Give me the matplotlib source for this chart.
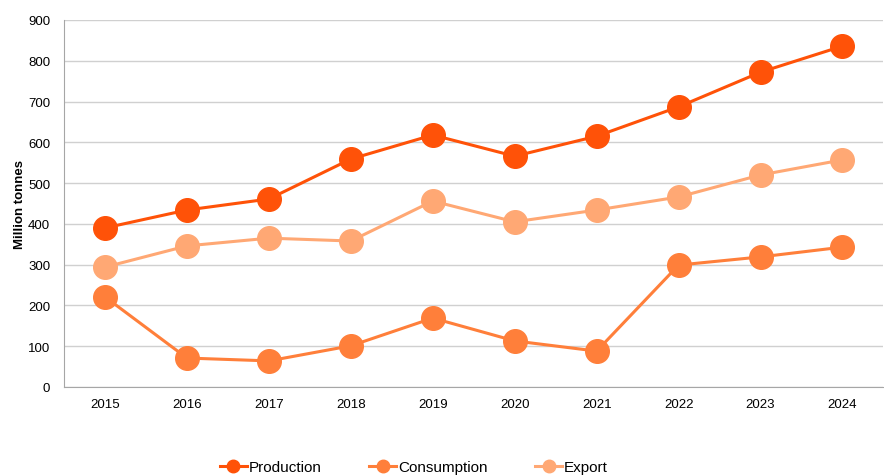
import matplotlib
matplotlib.use("Agg")
import matplotlib.pyplot as plt

plt.rcParams['font.family'] = ['Liberation Sans', 'DejaVu Sans']

years = ["2015", "2016", "2017", "2018", "2019", "2020", "2021", "2022", "2023", "2024"]
production = [390, 434, 461, 559, 618, 566, 615, 687, 772, 836]
consumption = [221, 71, 64, 101, 169, 113, 88, 299, 319, 343]
export = [294, 346, 365, 358, 456, 405, 434, 466, 520, 557]

series = [
    ("Production", production, "#FF5208"),
    ("Consumption", consumption, "#FF7F3A"),
    ("Export", export, "#FFA874"),
]

fig = plt.figure(figsize=(8.84, 4.77), dpi=100)
ax = fig.add_axes([0.0724, 0.1866, 0.927, 0.7694])

x = list(range(len(years)))
for name, vals, col in series:
    ax.plot(x, vals, color=col, lw=2.2, marker="o", markersize=17,
            label=name, zorder=3)

ax.set_xlim(-0.5, len(years) - 0.5)
ax.set_ylim(0, 900)
ax.set_yticks(range(0, 901, 100))
ax.set_xticks(x)
ax.set_xticklabels(years)
ax.tick_params(axis="both", length=0, labelsize=9.5, colors="#000000", pad=8)
ax.tick_params(axis="y", pad=10)
ax.grid(axis="y", color="#D0D0D0", lw=1)
ax.set_axisbelow(True)
for s in ["top", "right"]:
    ax.spines[s].set_visible(False)
for s in ["left", "bottom"]:
    ax.spines[s].set_color("#A6A6A6")
ax.set_ylabel("Million tonnes", fontsize=9.5, fontweight="bold", labelpad=1)

handles = [plt.Line2D([], [], color=c, lw=2.2, marker="o", markersize=9)
           for _, _, c in series]
fig.legend(handles, [s[0] for s in series], loc="center",
           bbox_to_anchor=(0.468, 0.019), ncol=3, frameon=False,
           fontsize=11, handlelength=1.8, handletextpad=0.1, columnspacing=3.1)

fig.savefig("out.png", dpi=100)
